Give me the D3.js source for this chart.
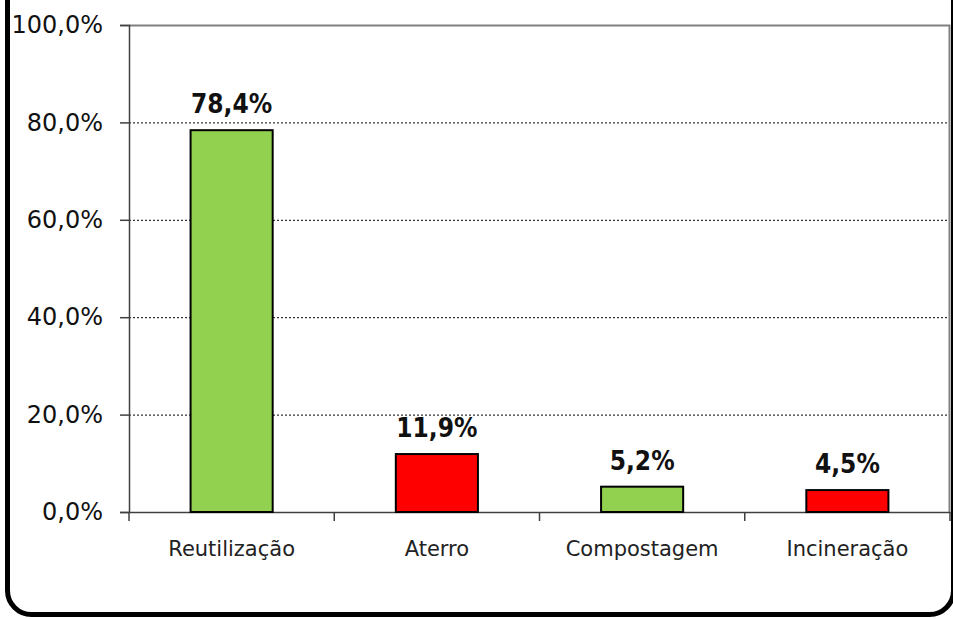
<!DOCTYPE html>
<html>
<head>
<meta charset="utf-8">
<script src="https://cdn.jsdelivr.net/npm/d3@7"></script>
<style>
  body { margin: 0; background: #fff; }
  svg { display: block; font-family: Tahoma, "DejaVu Sans", sans-serif; }
</style>
</head>
<body>
<div id="chart"></div>
<script>
  const categories = ['Reutilização', 'Aterro', 'Compostagem', 'Incineração']
  const values = [78.4, 11.9, 5.2, 4.5]
  const barColors = ['#92D050', '#FF0000', '#92D050', '#FF0000']
  const yTicks = [0, 20, 40, 60, 80, 100]

  const width = 953
  const height = 619
  const margin = {top: 25, right: 3, bottom: 107, left: 129}

  const svg = d3.select('#chart').append('svg')
                .attr('width', width)
                .attr('height', height)

  // outer frame, top and right are cut off
  svg.append('rect')
     .attr('x', 7.5).attr('y', -60)
     .attr('width', 946).attr('height', 674.5)
     .attr('rx', 24)
     .attr('fill', 'none')
     .attr('stroke', '#000')
     .attr('stroke-width', 5)

  const x = d3.scaleBand()
              .domain(categories)
              .range([margin.left, width - margin.right])
              .paddingInner(0.6)
              .paddingOuter(0.3)

  const y = d3.scaleLinear()
              .domain([0, 100])
              .range([height - margin.bottom, margin.top])

  // gridlines
  svg.append('g')
     .selectAll('line')
     .data(yTicks.filter(d => d > 0 && d < 100))
     .join('line')
     .attr('x1', margin.left).attr('x2', width - margin.right)
     .attr('y1', d => y(d) + 0.5).attr('y2', d => y(d) + 0.5)
     .attr('stroke', '#000')
     .attr('stroke-width', 1)
     .attr('stroke-dasharray', '2,2')

  // plot box top / right
  svg.append('path')
     .attr('d', `M${margin.left},${y(100) + 0.5}H${width - margin.right - 0.5}V${y(0)}`)
     .attr('fill', 'none')
     .attr('stroke', '#808080')
     .attr('stroke-width', 2)

  const yAxis = svg.append('g')
                   .attr('transform', `translate(${margin.left},0)`)
                   .call(d3.axisLeft(y).tickValues(yTicks).tickSize(9).tickPadding(17)
                           .tickFormat(d => d.toFixed(1).replace('.', ',') + '%'))
  yAxis.select('.domain').attr('stroke', '#404040').attr('stroke-width', 1.5)
  yAxis.selectAll('.tick line').attr('stroke', '#404040').attr('stroke-width', 1.5)
  yAxis.selectAll('text').attr('font-size', 24).attr('fill', '#111')
       .attr('font-family', '"DejaVu Sans"')

  const xAxis = svg.append('g')
                   .attr('transform', `translate(0,${y(0)})`)
                   .call(d3.axisBottom(x).tickSize(0).tickPadding(29))
  xAxis.select('.domain').attr('stroke', '#404040').attr('stroke-width', 1.5)
  xAxis.selectAll('text').attr('font-size', 21).attr('fill', '#222')
       .attr('font-family', '"DejaVu Sans"')

  // category separators
  const seps = d3.range(categories.length + 1).map(i => margin.left + i * x.step())
  svg.append('g')
     .selectAll('line')
     .data(seps)
     .join('line')
     .attr('x1', d => d).attr('x2', d => d)
     .attr('y1', y(0)).attr('y2', y(0) + 9)
     .attr('stroke', '#404040')
     .attr('stroke-width', 1.5)

  svg.append('g')
     .selectAll('rect')
     .data(values)
     .join('rect')
     .attr('x', (d, i) => x(categories[i]))
     .attr('y', d => y(d))
     .attr('width', x.bandwidth())
     .attr('height', d => y(0) - y(d))
     .attr('fill', (d, i) => barColors[i])
     .attr('stroke', '#000')
     .attr('stroke-width', 2)

  svg.append('g')
     .selectAll('text')
     .data(values)
     .join('text')
     .attr('x', (d, i) => x(categories[i]) + x.bandwidth() / 2)
     .attr('y', d => y(d) - 17)
     .attr('text-anchor', 'middle')
     .attr('font-family', '"DejaVu Sans Condensed", "DejaVu Sans"')
     .attr('font-weight', 'bold')
     .attr('font-size', 26)
     .attr('fill', '#111')
     .text(d => d.toFixed(1).replace('.', ',') + '%')
</script>
</body>
</html>
